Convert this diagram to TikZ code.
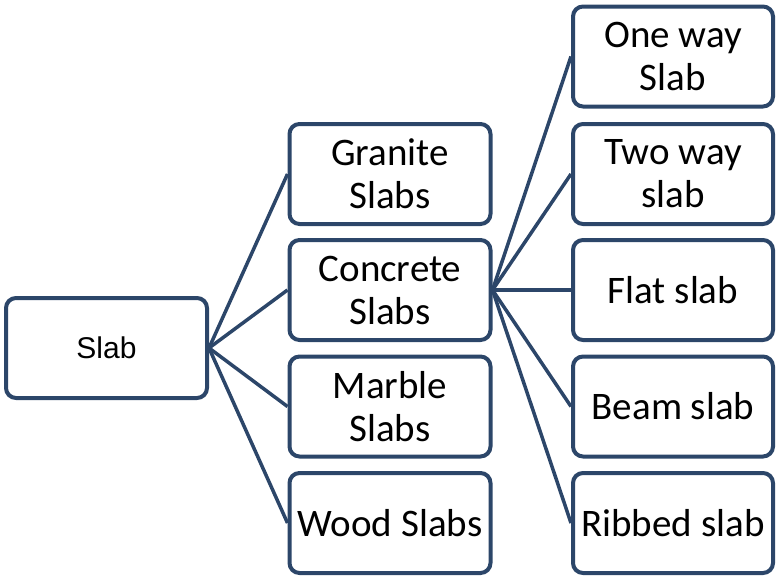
\documentclass[tikz,border=0pt]{standalone}
\usepackage{fontspec}
\setmainfont{Carlito}
\newfontfamily\arialfont{Liberation Sans}
\definecolor{boxline}{RGB}{44,70,105}
\begin{document}
\begin{tikzpicture}[x=1pt,y=-1pt,
  box/.style={draw=boxline, line width=4pt, rounded corners=10pt, fill=white,
    minimum width=201pt, minimum height=100pt, inner sep=0pt, align=center,
    font=\fontsize{39}{43}\selectfont},
  link/.style={draw=boxline, line width=3.5pt}]
\useasboundingbox (0,0) rectangle (776,576);
% root
\node[box, font=\arialfont\fontsize{30}{36}\selectfont] (slab) at (106.5,348) {Slab};
% slab materials
\node[box] (granite)  at (390,174)   {Granite\\Slabs};
\node[box] (concrete) at (390,290)   {Concrete\\Slabs};
\node[box] (marble)   at (390,406.5) {Marble\\Slabs};
\node[box] (wood)     at (390,523)   {Wood Slabs};
% concrete slab types
\node[box, minimum width=200pt] (oneway) at (673,56.5)  {One way\\Slab};
\node[box, minimum width=200pt] (twoway) at (673,174)   {Two way\\slab};
\node[box, minimum width=200pt] (flat)   at (673,290)   {Flat slab};
\node[box, minimum width=200pt] (beam)   at (673,406.5) {Beam slab};
\node[box, minimum width=200pt] (ribbed) at (673,523)   {Ribbed slab};
% connectors
\foreach \t in {granite,concrete,marble,wood}
  \draw[link] (slab.east) -- (\t.west);
\foreach \t in {oneway,twoway,flat,beam,ribbed}
  \draw[link] (concrete.east) -- (\t.west);
\end{tikzpicture}
\end{document}
